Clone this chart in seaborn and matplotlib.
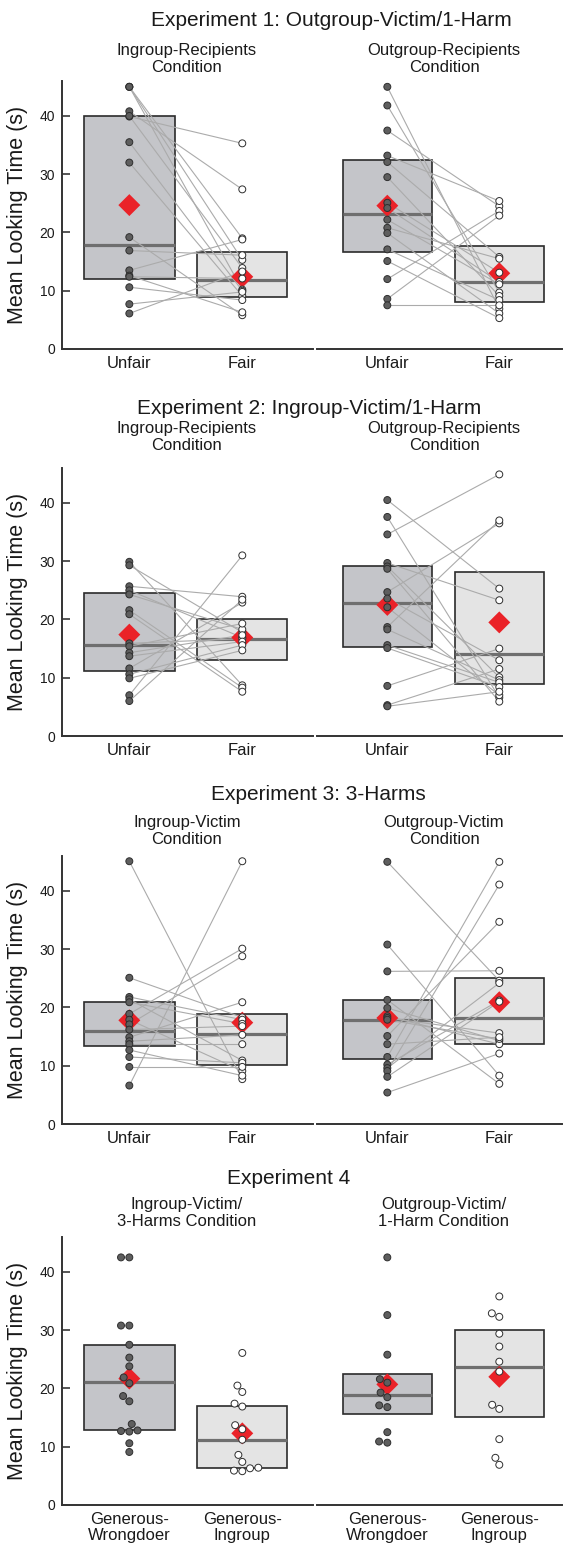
import numpy as np
import pandas as pd
import matplotlib
matplotlib.use("Agg")
import matplotlib.pyplot as plt
import seaborn as sns

# ---------------- data ----------------
titles = ["Experiment 1: Outgroup-Victim/1-Harm",
          "Experiment 2: Ingroup-Victim/1-Harm",
          "Experiment 3: 3-Harms",
          "Experiment 4"]
subtitles = [["Ingroup-Recipients\nCondition", "Outgroup-Recipients\nCondition"],
             ["Ingroup-Recipients\nCondition", "Outgroup-Recipients\nCondition"],
             ["Ingroup-Victim\nCondition", "Outgroup-Victim\nCondition"],
             ["Ingroup-Victim/\n3-Harms Condition", "Outgroup-Victim/\n1-Harm Condition"]]
cats_paired = ["Unfair", "Fair"]
cats_exp4 = ["Generous-\nWrongdoer", "Generous-\nIngroup"]

# Experiment 1, Ingroup-Recipients (paired per infant)
e1a_unfair = [45.0, 45.0, 45.0, 40.8, 39.9, 40.0, 35.5, 32.0, 19.2, 16.9, 13.5, 12.6, 12.4, 10.6, 7.7, 6.1]
e1a_fair   = [19.0, 15.3, 10.2, 27.4, 35.3, 13.9, 10.0, 9.1, 5.8, 16.1, 18.8, 6.3, 12.1, 8.4, 9.8, 13.3]
# Experiment 1, Outgroup-Recipients
e1b_unfair = [45.0, 41.8, 37.5, 33.2, 32.1, 29.5, 25.1, 24.2, 22.2, 20.8, 19.9, 17.1, 15.1, 12.0, 8.6, 7.5]
e1b_fair   = [6.9, 9.7, 24.5, 25.4, 15.8, 9.1, 13.1, 11.5, 11.1, 15.5, 6.1, 8.4, 5.3, 23.7, 22.9, 7.5]
# Experiment 2, Ingroup-Recipients
e2a_unfair = [29.9, 29.3, 25.7, 25.0, 24.3, 21.6, 20.9, 15.9, 15.4, 14.3, 13.7, 11.6, 10.6, 9.9, 7.0, 6.0]
e2a_fair   = [8.7, 17.8, 23.9, 16.9, 18.3, 8.3, 7.6, 16.7, 19.3, 17.3, 16.2, 22.9, 15.6, 14.7, 31.0, 23.4]
# Experiment 2, Outgroup-Recipients
e2b_unfair = [40.5, 37.6, 34.6, 29.7, 29.1, 28.7, 24.7, 23.6, 22.1, 18.7, 18.3, 15.6, 15.1, 8.6, 5.3, 5.1]
e2b_fair   = [25.3, 6.6, 44.9, 23.3, 10.1, 5.9, 36.5, 13.0, 7.0, 37.0, 9.6, 9.2, 8.4, 15.0, 11.5, 7.6]
# Experiment 3, Ingroup-Victim
e3a_unfair = [45.1, 25.1, 21.8, 21.4, 20.9, 18.9, 17.9, 17.1, 16.2, 14.9, 14.2, 13.7, 12.7, 11.5, 9.8, 6.6]
e3a_fair   = [7.7, 18.3, 17.9, 10.9, 17.2, 30.1, 9.1, 28.8, 16.8, 20.9, 15.3, 13.7, 8.3, 10.5, 9.8, 45.1]
# Experiment 3, Outgroup-Victim
e3b_unfair = [45.0, 30.8, 26.2, 21.3, 19.9, 18.5, 18.2, 17.9, 15.1, 13.7, 11.5, 10.2, 9.6, 9.1, 8.1, 5.4]
e3b_fair   = [24.6, 8.3, 26.3, 6.9, 14.3, 13.7, 15.6, 14.6, 34.7, 14.9, 45.0, 21.2, 24.2, 41.1, 21.0, 12.1]
# Experiment 4 (between-subjects)
e4a_wrongdoer = [42.5, 42.5, 30.8, 30.8, 27.5, 25.3, 23.8, 21.9, 20.9, 18.7, 17.8, 13.9, 12.8, 12.7, 12.6, 10.6, 9.1]
e4a_ingroup   = [26.1, 20.5, 19.4, 17.4, 16.9, 13.7, 13.0, 11.2, 8.6, 7.4, 6.4, 6.3, 5.9, 5.8]
e4b_wrongdoer = [42.5, 32.6, 25.8, 21.6, 21.0, 19.3, 18.5, 17.1, 16.8, 12.5, 10.9, 10.7]
e4b_ingroup   = [35.8, 32.9, 32.3, 29.4, 27.2, 24.6, 22.9, 17.2, 16.5, 11.3, 8.1, 6.9]

# box statistics: [first cond, second cond]
q1s = [[12.0, 9.0], [16.6, 8.1], [11.2, 13.1], [15.2, 9.0],
       [13.4, 10.2], [11.1, 13.8], [12.8, 6.3], [15.6, 15.1]]
medians = [[17.8, 11.8], [23.2, 11.5], [15.6, 16.7], [22.9, 14.1],
           [15.9, 15.4], [17.9, 18.2], [21.1, 11.2], [18.9, 23.7]]
q3s = [[40.0, 16.6], [32.4, 17.7], [24.5, 20.1], [29.1, 28.1],
       [21.0, 18.9], [21.2, 25.0], [27.4, 17.0], [22.5, 30.0]]
means = [[24.7, 12.4], [24.6, 13.0], [17.4, 16.9], [22.5, 19.5],
         [17.8, 17.4], [18.2, 20.9], [21.7, 12.3], [20.7, 22.0]]

paired = [(e1a_unfair, e1a_fair), (e1b_unfair, e1b_fair),
          (e2a_unfair, e2a_fair), (e2b_unfair, e2b_fair),
          (e3a_unfair, e3a_fair), (e3b_unfair, e3b_fair)]
exp4 = [(e4a_wrongdoer, e4a_ingroup), (e4b_wrongdoer, e4b_ingroup)]

# ---------------- style ----------------
sns.set_theme(style="white")
plt.rcParams["font.family"] = ["Liberation Sans", "DejaVu Sans"]

W, H = 565, 1548
fig = plt.figure(figsize=(W / 100, H / 100), dpi=100)

BOX_COLORS = ["#c4c5c9", "#e4e4e4"]
PT_COLORS = ["#5e5e5e", "#ffffff"]
EDGE = "#2b2b2b"
MED = "#6f6f6f"
RED = "#ea2228"
LINEC = "#ababab"

row_bottoms = [349, 736, 1124, 1505]
ROW_H = 268
col_x = [(62, 313), (317, 562)]
col_xlim = [(-0.596, 1.626), (-0.628, 1.56)]
title_pos = [(331, 21), (309, 408), (318, 795), (289, 1178)]
sub_y = [(50, 68), (428, 446), (822, 840), (1204, 1222)]
sub_x = [(187, 444), (187, 444), (187, 444), (187, 444)]


def make_ax(r, c):
    x0, x1 = col_x[c]
    b = row_bottoms[r]
    return fig.add_axes([x0 / W, 1 - b / H, (x1 - x0) / W, ROW_H / H])


def style_ax(ax, c, labels):
    ax.set_ylim(0, 46)
    ax.set_xlim(*col_xlim[c])
    ax.set_xticks([0, 1])
    ax.set_xticklabels(labels, fontsize=12, color="#1a1a1a", linespacing=1.05)
    ax.tick_params(axis="x", length=0, pad=5)
    ax.set_xlabel("")
    ax.set_ylabel("")
    for s in ["top", "right"]:
        ax.spines[s].set_visible(False)
    ax.spines["bottom"].set_color("#333333")
    ax.spines["bottom"].set_linewidth(1.4)
    if c == 0:
        ax.spines["left"].set_color("#333333")
        ax.spines["left"].set_linewidth(1.4)
        ax.set_yticks([0, 10, 20, 30, 40])
        ax.tick_params(axis="y", direction="in", length=6, width=1.4,
                       color="#555555", labelsize=10, labelcolor="#1a1a1a", pad=5, left=True)
    else:
        ax.spines["left"].set_visible(False)
        ax.set_yticks([])
    ax.grid(False)


def draw_boxes(ax, k):
    q1 = np.array(q1s[k]); q3 = np.array(q3s[k])
    ax.bar([0, 1], q3 - q1, bottom=q1, width=0.8, color=BOX_COLORS,
           edgecolor=EDGE, linewidth=1.2, zorder=1)
    ax.hlines(medians[k], [-0.4, 0.6], [0.4, 1.4], color=MED, lw=2.3, zorder=2)


k = 0
for r in range(4):
    for c in range(2):
        ax = make_ax(r, c)
        draw_boxes(ax, k)
        if r < 3:
            u, f = paired[k]
            n = len(u)
            df = pd.DataFrame({"subj": list(range(n)) * 2,
                               "pos": [0] * n + [1] * n,
                               "val": list(u) + list(f)})
            sns.lineplot(data=df, x="pos", y="val", units="subj", estimator=None,
                         color=LINEC, lw=0.8, ax=ax, zorder=3, legend=False)
            sns.scatterplot(x=[0, 1], y=means[k], marker="D", s=125, color=RED,
                            edgecolor="none", ax=ax, zorder=4, legend=False)
            sns.scatterplot(data=df, x="pos", y="val", hue="pos",
                            palette={0: PT_COLORS[0], 1: PT_COLORS[1]},
                            edgecolor="#2e2e2e", linewidth=0.7, s=25,
                            ax=ax, zorder=5, legend=False)
            style_ax(ax, c, cats_paired)
        else:
            a, b = exp4[c]
            df = pd.DataFrame({"cond": [cats_exp4[0]] * len(a) + [cats_exp4[1]] * len(b),
                               "val": list(a) + list(b)})
            sns.scatterplot(x=[0, 1], y=means[k], marker="D", s=125, color=RED,
                            edgecolor="none", ax=ax, zorder=4, legend=False)
            sns.swarmplot(data=df, x="cond", y="val", hue="cond", order=cats_exp4,
                          palette={cats_exp4[0]: PT_COLORS[0], cats_exp4[1]: PT_COLORS[1]},
                          size=5, edgecolor="#2e2e2e", linewidth=0.7,
                          ax=ax, zorder=5, legend=False)
            style_ax(ax, c, cats_exp4)
        k += 1

    fig.text(title_pos[r][0] / W, 1 - title_pos[r][1] / H, titles[r],
             ha="center", va="center", fontsize=15, color="#1a1a1a")
    for c in range(2):
        fig.text(sub_x[r][c] / W, 1 - (sub_y[r][0] + sub_y[r][1]) / 2 / H, subtitles[r][c],
                 ha="center", va="center", fontsize=12, color="#1a1a1a", linespacing=1.1)
    fig.text(18 / W, 1 - (row_bottoms[r] - ROW_H / 2) / H, "Mean Looking Time (s)",
             rotation=90, ha="center", va="center", fontsize=15.5, color="#1a1a1a")

fig.savefig("out.png", dpi=100)
